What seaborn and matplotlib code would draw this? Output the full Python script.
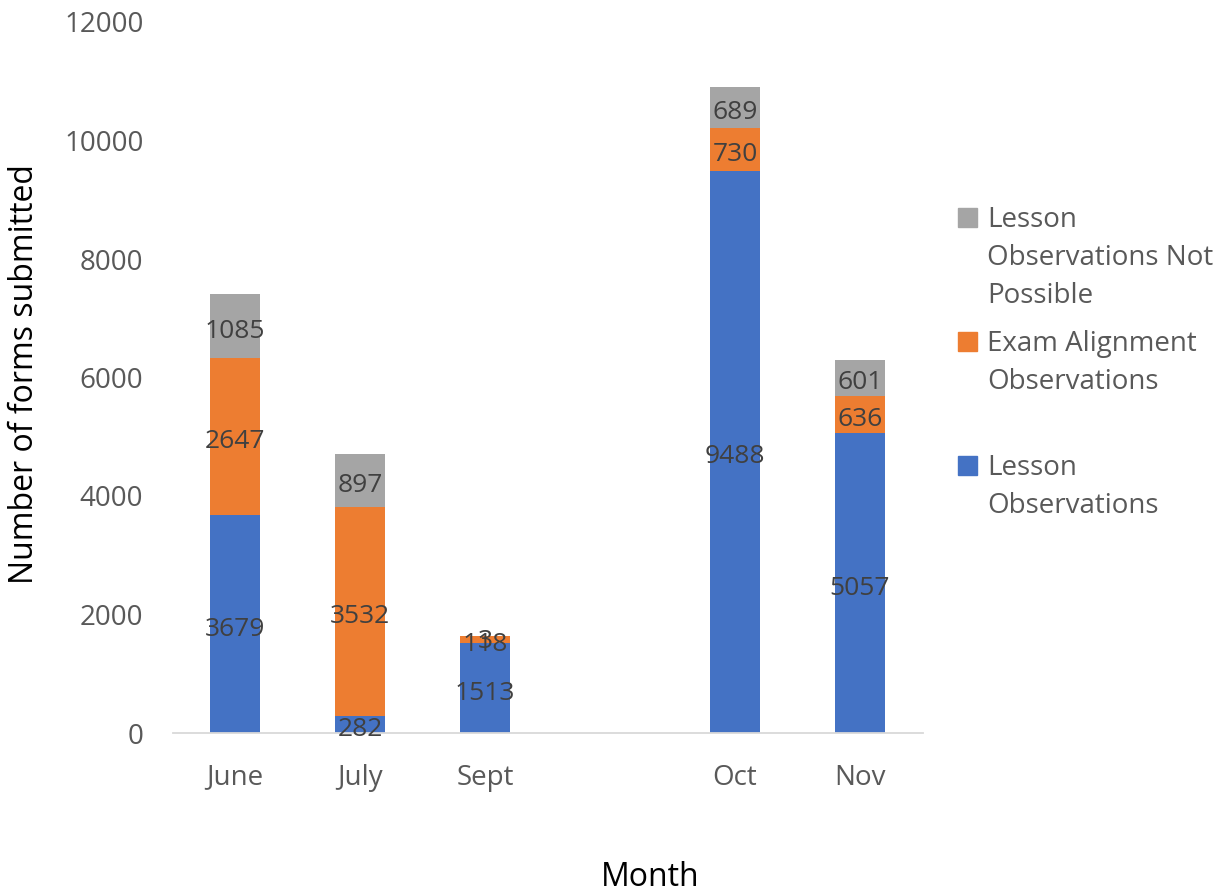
import pandas as pd
import seaborn as sns
import matplotlib.pyplot as plt
from matplotlib.patches import Rectangle

# --- chart data ---
months = ['June', 'July', 'Sept', 'Oct', 'Nov']
lesson_obs = [3679, 282, 1513, 9488, 5057]
exam_obs = [2647, 3532, 118, 730, 636]
not_possible = [1085, 897, 3, 689, 601]
# Excel left an empty slot between Sept and Oct
month_order = ['June', 'July', 'Sept', '', 'Oct', 'Nov']

series_names = ['Lesson Observations', 'Exam Alignment Observations',
                'Lesson Observations Not Possible']
legend_labels = [['Lesson', 'Observations Not', 'Possible'],
                 ['Exam Alignment', 'Observations'],
                 ['Lesson', 'Observations']]

colors = {'Lesson Observations': '#4472C4',
          'Exam Alignment Observations': '#ED7D31',
          'Lesson Observations Not Possible': '#A5A5A5'}

df = pd.DataFrame({'Month': months,
                   'Lesson Observations': lesson_obs,
                   'Exam Alignment Observations': exam_obs,
                   'Lesson Observations Not Possible': not_possible})

# cumulative tops for the stack
df['top_0'] = df[series_names[0]]
df['top_1'] = df['top_0'] + df[series_names[1]]
df['top_2'] = df['top_1'] + df[series_names[2]]

sns.set_theme(style='white')
plt.rcParams['font.family'] = ['Open Sans', 'DejaVu Sans']
text_gray = '#595959'
label_gray = '#404040'

W, H = 1216, 890
fig = plt.figure(figsize=(W / 100, H / 100), dpi=100)
ax = fig.add_axes([172.5 / W, 1 - 733 / H, 750 / W, 711 / H])

# draw tallest first so the lower layers sit on top
for i in [2, 1, 0]:
    sns.barplot(data=df, x='Month', y=f'top_{i}', order=month_order,
                color=colors[series_names[i]], width=0.4, saturation=1,
                linewidth=0, edgecolor='none', ax=ax, errorbar=None)

# segment labels in the middle of each piece
for _, row in df.iterrows():
    xpos = month_order.index(row['Month'])
    base = 0
    for i, name in enumerate(series_names):
        v = row[name]
        ax.annotate(f'{v}', (xpos, base + v / 2), xytext=(0, -3.6),
                    textcoords='offset points', ha='center', va='center',
                    fontsize=19, color=label_gray)
        base += v

ax.set_ylim(0, 12000)
ax.set_xlim(-0.5, 5.5)
ax.set_yticks(range(0, 12001, 2000))
ax.set_xlabel('')
ax.set_ylabel('')
ax.tick_params(axis='y', length=0, pad=21, labelsize=20, labelcolor=text_gray)
ax.tick_params(axis='x', length=0, pad=22, labelsize=20, labelcolor=text_gray)
for s in ['top', 'right', 'left']:
    ax.spines[s].set_visible(False)
ax.spines['bottom'].set_color('#D9D9D9')
ax.spines['bottom'].set_linewidth(1.3)
ax.grid(False)

fig.text(25 / W, 1 - 374 / H, 'Number of forms submitted', rotation=90,
         ha='center', va='center', fontsize=23, color='black')
fig.text(650 / W, 1 - 886 / H, 'Month', ha='center', va='baseline',
         fontsize=23, color='black')

# legend drawn by hand so the square sits on the first wrapped line;
# every entry takes three lines of room, as in the original
baseline = 227
for name, lines in zip(reversed(series_names), legend_labels):
    fig.patches.append(Rectangle((958 / W, 1 - baseline / H), 19 / W, 19 / H,
                                 transform=fig.transFigure,
                                 color=colors[name]))
    for k, line in enumerate(lines):
        fig.text(987 / W, 1 - (baseline + 38 * k) / H, line, ha='left',
                 va='baseline', fontsize=20, color=text_gray)
    baseline += 124

fig.savefig('out.png', dpi=100)
